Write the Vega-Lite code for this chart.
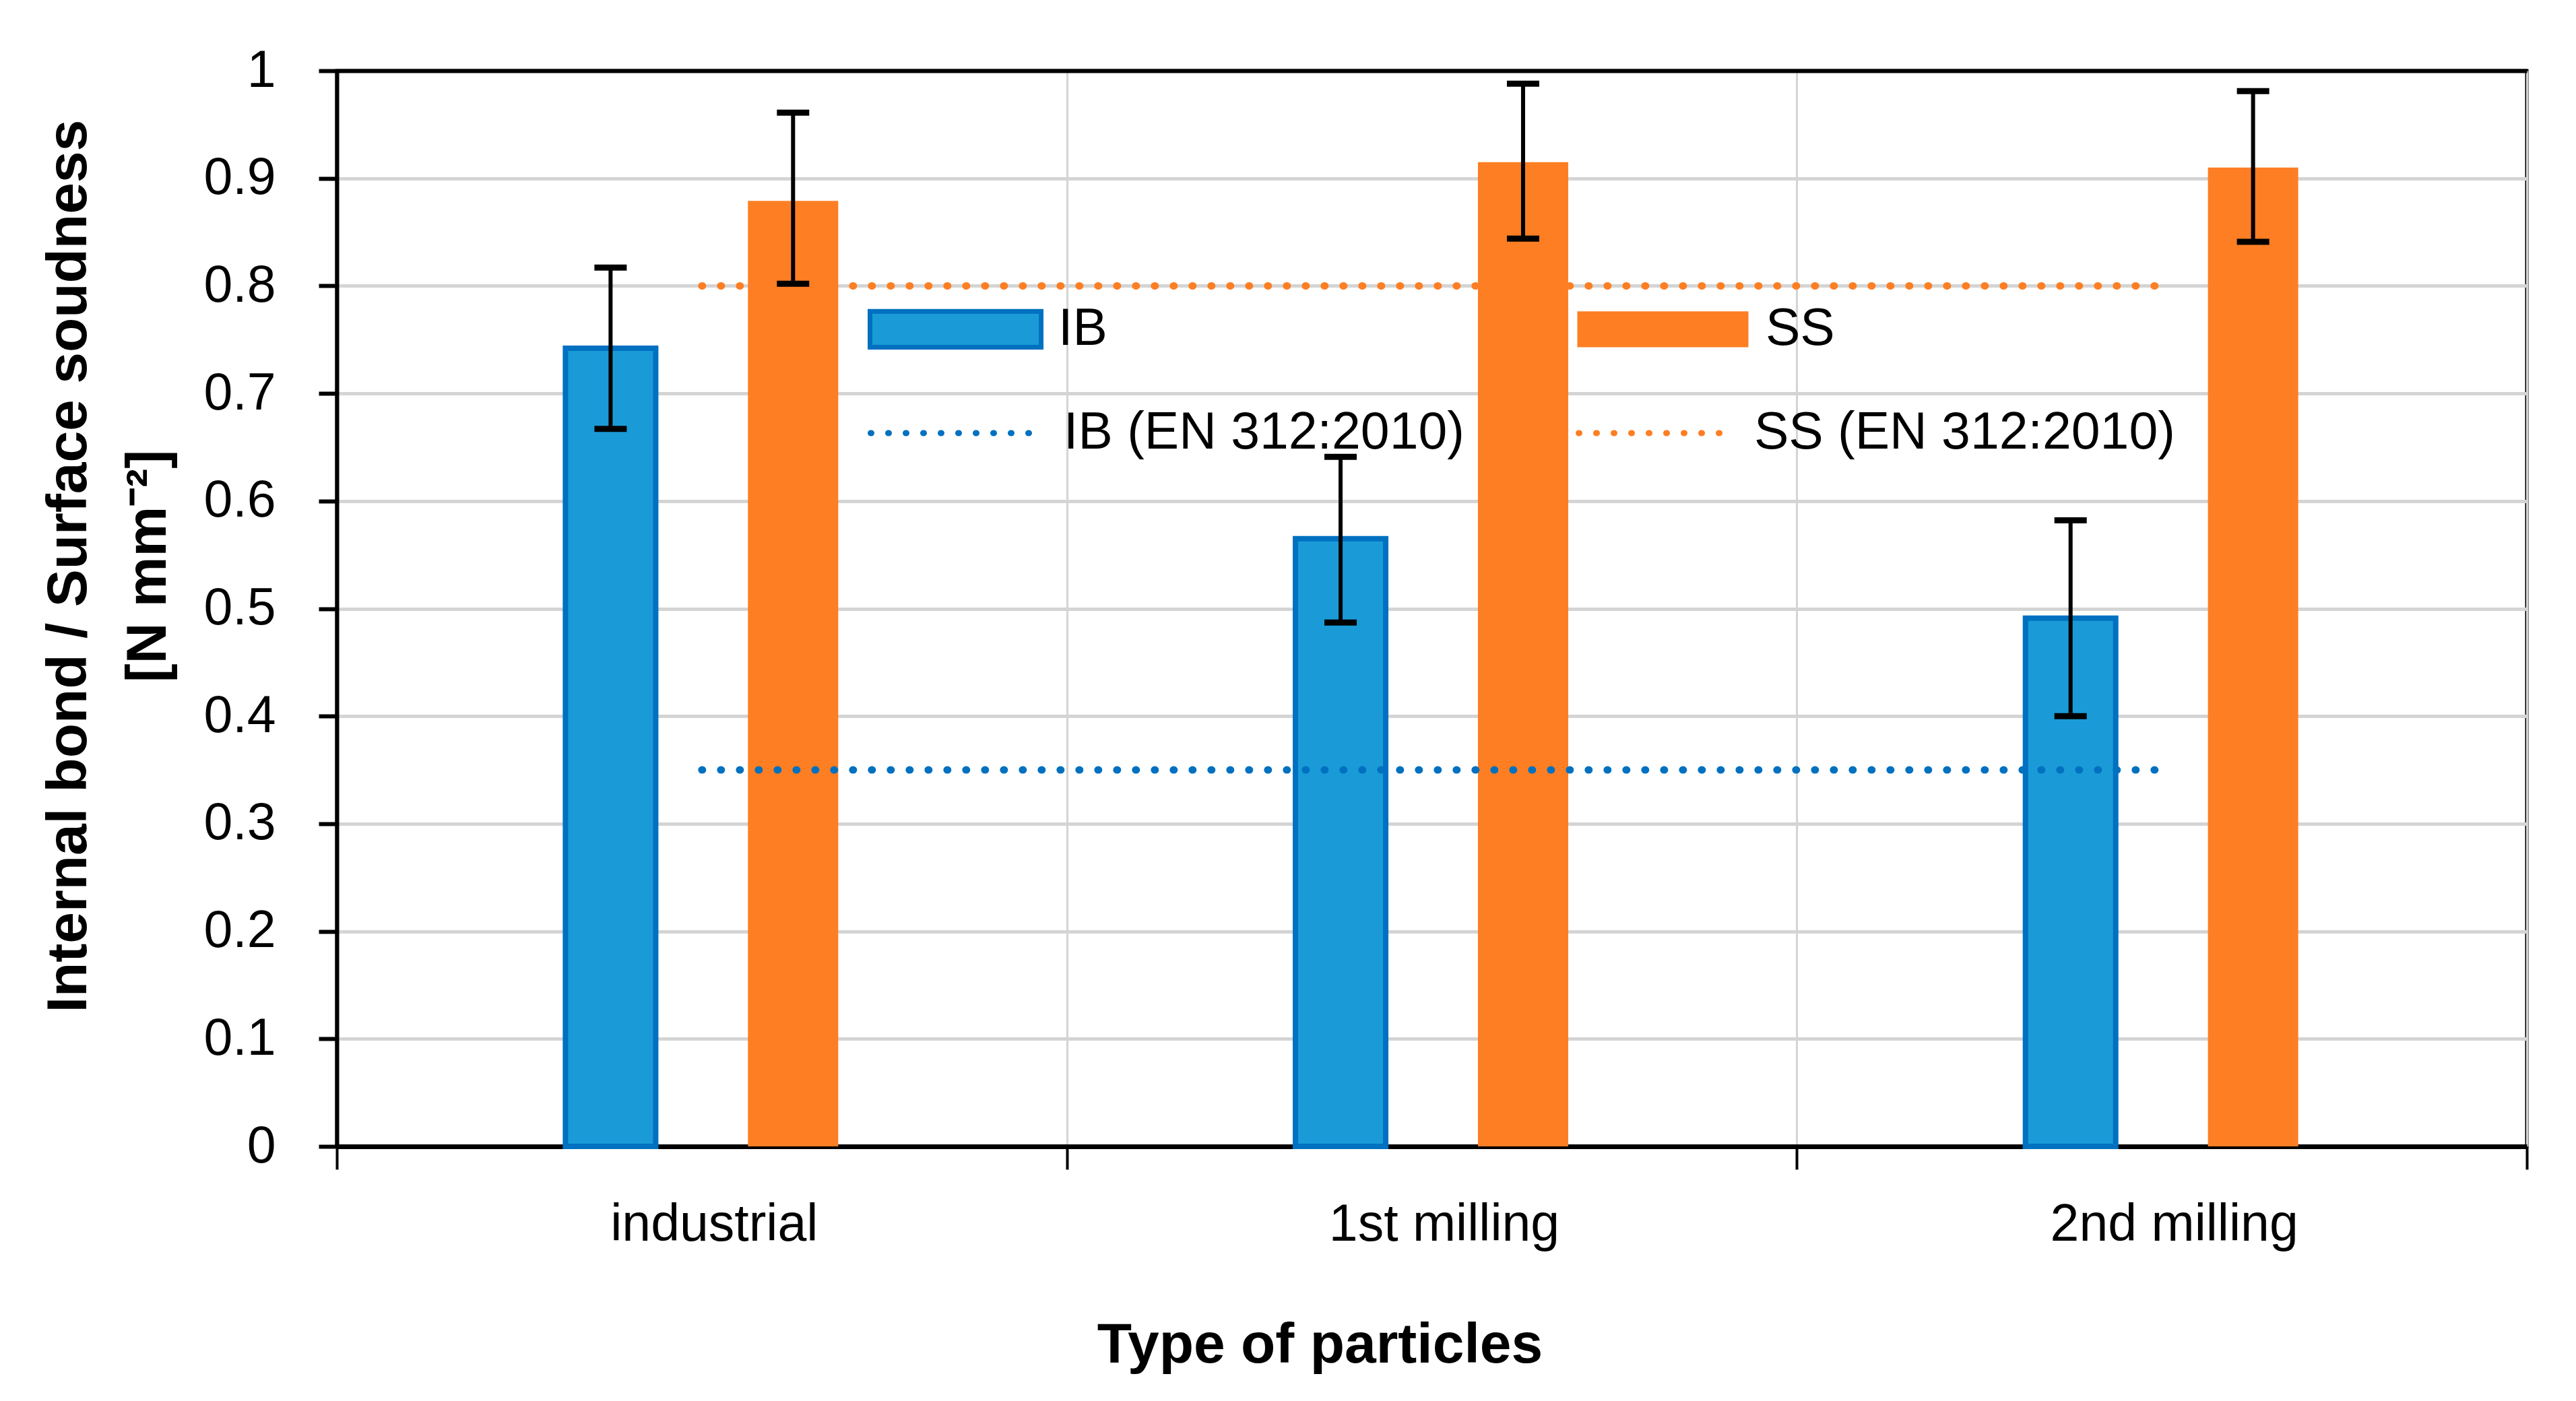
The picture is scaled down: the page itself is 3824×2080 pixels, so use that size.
{
  "$schema": "https://vega.github.io/schema/vega-lite/v6.json",
  "width": 3251,
  "height": 1597,
  "autosize": {"type": "none"},
  "padding": {"left": 500, "top": 105, "right": 73, "bottom": 378},
  "background": "white",
  "config": {
    "font": "Liberation Sans",
    "view": {"stroke": "black", "strokeWidth": 5}
  },
  "datasets": {
    "bars": [
      {"particles": "industrial", "series": "IB", "value": 0.742, "lo": 0.667, "hi": 0.817},
      {"particles": "industrial", "series": "SS", "value": 0.879, "lo": 0.802, "hi": 0.961},
      {"particles": "1st milling", "series": "IB", "value": 0.565, "lo": 0.487, "hi": 0.641},
      {"particles": "1st milling", "series": "SS", "value": 0.915, "lo": 0.844, "hi": 0.988},
      {"particles": "2nd milling", "series": "IB", "value": 0.491, "lo": 0.400, "hi": 0.582},
      {"particles": "2nd milling", "series": "SS", "value": 0.910, "lo": 0.841, "hi": 0.981}
    ],
    "std": [
      {"particles": "industrial", "standard": "IB (EN 312:2010)", "value": 0.35},
      {"particles": "2nd milling", "standard": "IB (EN 312:2010)", "value": 0.35},
      {"particles": "industrial", "standard": "SS (EN 312:2010)", "value": 0.8},
      {"particles": "2nd milling", "standard": "SS (EN 312:2010)", "value": 0.8}
    ]
  },
  "layer": [
    {
      "data": {"name": "bars"},
      "mark": {"type": "bar", "strokeWidth": 8, "width": 134},
      "encoding": {
        "x": {
          "field": "particles", "type": "nominal",
          "scale": {"domain": ["industrial", "1st milling", "2nd milling"], "paddingInner": 0, "paddingOuter": 0},
          "axis": {
            "title": "Type of particles",
            "tickBand": "extent",
            "grid": true, "gridColor": "#D4D4D4", "gridWidth": 3,
            "domainColor": "black", "domainWidth": 7,
            "tickColor": "black", "tickWidth": 4, "tickSize": 34,
            "labelPadding": 44, "labelFontSize": 77, "labelColor": "black", "labelOffset": 18, "labelAngle": 0, "labelLimit": 0,
            "titleFontSize": 84, "titleFontWeight": "bold", "titleColor": "black",
            "titleX": 1459, "titleY": 254, "titleBaseline": "top", "titleAlign": "center"
          }
        },
        "xOffset": {
          "field": "series", "type": "nominal",
          "scale": {"domain": ["IB", "SS"], "paddingInner": 0, "paddingOuter": 1}
        },
        "y": {
          "field": "value", "type": "quantitative",
          "scale": {"domain": [0, 1], "nice": false},
          "axis": {
            "title": ["Internal bond / Surface soudness", "[N mm⁻²]"],
            "values": [0, 0.1, 0.2, 0.3, 0.4, 0.5, 0.6, 0.7, 0.8, 0.9, 1],
            "format": "~g",
            "grid": true,
            "gridColor": {"condition": {"test": "datum.value >= 1", "value": "black"}, "value": "#D4D4D4"},
            "gridWidth": {"condition": {"test": "datum.value >= 1", "value": 6}, "value": 5},
            "domainColor": "black", "domainWidth": 6,
            "tickColor": "black", "tickWidth": 6, "tickSize": 27,
            "labelPadding": 64, "labelFontSize": 77, "labelColor": "black",
            "titleFontSize": 84, "titleFontWeight": "bold", "titleColor": "black",
            "titleLineHeight": 118, "titleAngle": -90, "titleBaseline": "middle", "titleAlign": "center",
            "titleX": -398, "titleY": 735
          }
        },
        "fill": {
          "field": "series", "type": "nominal",
          "scale": {"domain": ["IB", "SS"], "range": ["#1A9BD7", "#FD7E23"]},
          "legend": {
            "title": null, "orient": "none", "legendX": 788, "legendY": 253,
            "direction": "horizontal", "padding": 0,
            "symbolType": "M-1,-0.21H1V0.21H-1Z", "symbolSize": 64516, "symbolOpacity": 1,
            "symbolStrokeColor": "#0070C0", "symbolStrokeWidth": 7,
            "labelFontSize": 77, "labelColor": "black", "labelOffset": 22, "columnPadding": 683, "labelLimit": 0,
            "encode": {"symbols": {"update": {"stroke": {"signal": "datum.value === 'IB' ? '#0070C0' : 'transparent'"}, "strokeWidth": {"value": 7}}}}
          }
        },
        "stroke": {"condition": {"test": "datum.series === 'IB'", "value": "#0070C0"}, "value": null}
      }
    },
    {
      "data": {"name": "std"},
      "mark": {"type": "line", "strokeWidth": 11, "strokeDash": [1, 27], "strokeCap": "round"},
      "encoding": {
        "x": {"field": "particles", "type": "nominal"},
        "y": {"field": "value", "type": "quantitative"},
        "stroke": {
          "field": "standard", "type": "nominal",
          "scale": {"domain": ["IB (EN 312:2010)", "SS (EN 312:2010)"], "range": ["#0070C0", "#FD7E23"]},
          "legend": {
            "title": null, "orient": "none", "legendX": 788, "legendY": 415,
            "direction": "horizontal", "padding": 0,
            "symbolType": "stroke", "symbolSize": 56169, "symbolStrokeWidth": 9, "symbolDash": [1, 25],
            "labelFontSize": 77, "labelColor": "black", "labelOffset": 45, "columnPadding": 125, "labelLimit": 0,
            "encode": {"symbols": {"update": {"strokeCap": {"value": "round"}}}}
          }
        }
      }
    },
    {
      "data": {"name": "bars"},
      "mark": {"type": "rule", "strokeWidth": 6, "color": "black", "opacity": 1},
      "encoding": {
        "x": {"field": "particles", "type": "nominal"},
        "xOffset": {"field": "series", "type": "nominal"},
        "y": {"field": "lo", "type": "quantitative"},
        "y2": {"field": "hi"}
      }
    },
    {
      "data": {"name": "bars"},
      "mark": {"type": "tick", "thickness": 9, "size": 48, "color": "black", "opacity": 1},
      "encoding": {
        "x": {"field": "particles", "type": "nominal"},
        "xOffset": {"field": "series", "type": "nominal"},
        "y": {"field": "hi", "type": "quantitative"}
      }
    },
    {
      "data": {"name": "bars"},
      "mark": {"type": "tick", "thickness": 9, "size": 48, "color": "black", "opacity": 1},
      "encoding": {
        "x": {"field": "particles", "type": "nominal"},
        "xOffset": {"field": "series", "type": "nominal"},
        "y": {"field": "lo", "type": "quantitative"}
      }
    }
  ]
}
